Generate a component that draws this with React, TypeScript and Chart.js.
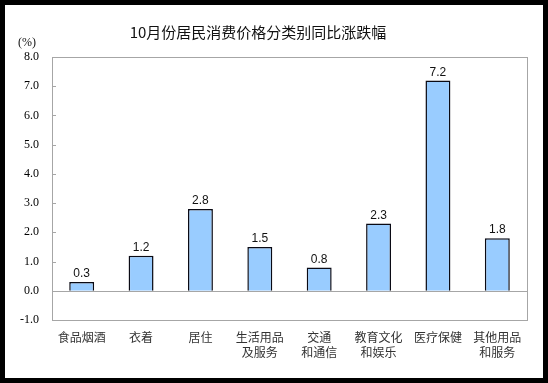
import React, { useEffect, useRef } from "react";
import { Chart, registerables } from "chart.js";

Chart.register(...registerables);

const TITLE = "10月份居民消费价格分类别同比涨跌幅";
const UNIT = "(%)";
const categories: string[][] = [
  ["食品烟酒"],
  ["衣着"],
  ["居住"],
  ["生活用品", "及服务"],
  ["交通", "和通信"],
  ["教育文化", "和娱乐"],
  ["医疗保健"],
  ["其他用品", "和服务"],
];
const values: number[] = [0.3, 1.2, 2.8, 1.5, 0.8, 2.3, 7.2, 1.8];
const yMin = -1;
const yMax = 8;
const yStep = 1;

const framePlugin = {
  id: "frame",
  beforeDatasetsDraw(chart: any) {
    const { ctx, chartArea } = chart;
    const y = chart.scales.y;
    ctx.save();
    ctx.strokeStyle = "#a6a6a6";
    ctx.lineWidth = 1;
    ctx.strokeRect(
      Math.round(chartArea.left) + 0.5,
      Math.round(chartArea.top) + 0.5,
      Math.round(chartArea.right - chartArea.left),
      Math.round(chartArea.bottom - chartArea.top)
    );
    const z = Math.round(y.getPixelForValue(0)) + 0.5;
    ctx.beginPath();
    ctx.moveTo(chartArea.left, z);
    ctx.lineTo(chartArea.right, z);
    ctx.stroke();
    y.ticks.forEach((t: any) => {
      const p = Math.round(y.getPixelForValue(t.value)) + 0.5;
      ctx.beginPath();
      ctx.moveTo(chartArea.left, p);
      ctx.lineTo(chartArea.left + 4, p);
      ctx.stroke();
    });
    ctx.restore();
  },
  afterDatasetsDraw(chart: any) {
    const { ctx } = chart;
    const meta = chart.getDatasetMeta(0);
    ctx.save();
    ctx.fillStyle = "#111";
    ctx.font = "12px 'Liberation Sans', Arial, sans-serif";
    ctx.textAlign = "center";
    ctx.textBaseline = "bottom";
    meta.data.forEach((bar: any, i: number) => {
      ctx.fillText(values[i].toFixed(1), bar.x, bar.y - 2);
    });
    ctx.fillStyle = "#111";
    ctx.font = "15px 'Noto Sans CJK SC', sans-serif";
    ctx.textBaseline = "middle";
    ctx.fillText(TITLE, 253, 27);
    ctx.font = "12px 'Liberation Serif', serif";
    ctx.fillText(UNIT, 22, 37.5);
    ctx.restore();
  },
};

export default function App() {
  const ref = useRef<HTMLCanvasElement | null>(null);
  useEffect(() => {
    if (!ref.current) return;
    const chart = new Chart(ref.current, {
      type: "bar",
      data: {
        labels: categories,
        datasets: [
          {
            data: values,
            backgroundColor: "#99ccff",
            borderColor: "#0a0a14",
            borderWidth: 1.5,
            barPercentage: 0.42,
            categoryPercentage: 1,
          },
        ],
      },
      options: {
        animation: false,
        responsive: false,
        devicePixelRatio: 1,
        layout: { padding: { top: 52, right: 16, left: 0, bottom: 0 } },
        plugins: {
          legend: { display: false },
          title: { display: false },
          tooltip: { enabled: false },
        },
        scales: {
          x: {
            grid: { display: false, drawTicks: false },
            border: { display: false },
            afterFit: (s: any) => {
              s.height = 58;
            },
            ticks: {
              padding: 10,
              color: "#333",
              maxRotation: 0,
              autoSkip: false,
              font: { family: "'Noto Sans CJK SC', sans-serif", size: 12, lineHeight: 1.25 },
            },
          },
          y: {
            min: yMin,
            max: yMax,
            grid: { display: false, drawTicks: false },
            border: { display: false },
            afterFit: (s: any) => {
              s.width = 47;
            },
            ticks: {
              stepSize: yStep,
              padding: 13,
              color: "#000",
              font: { family: "'Liberation Serif', serif", size: 12 },
              callback: (v: any) => Number(v).toFixed(1),
            },
          },
        },
      },
      plugins: [framePlugin],
    });
    return () => chart.destroy();
  }, []);
  return (
    <div
      style={{
        position: "fixed",
        left: 0,
        top: 0,
        width: 548,
        height: 383,
        boxSizing: "border-box",
        border: "5px solid #000",
        background: "#fff",
      }}
    >
      <canvas ref={ref} width={538} height={373} style={{ display: "block", width: 538, height: 373 }} />
    </div>
  );
}
